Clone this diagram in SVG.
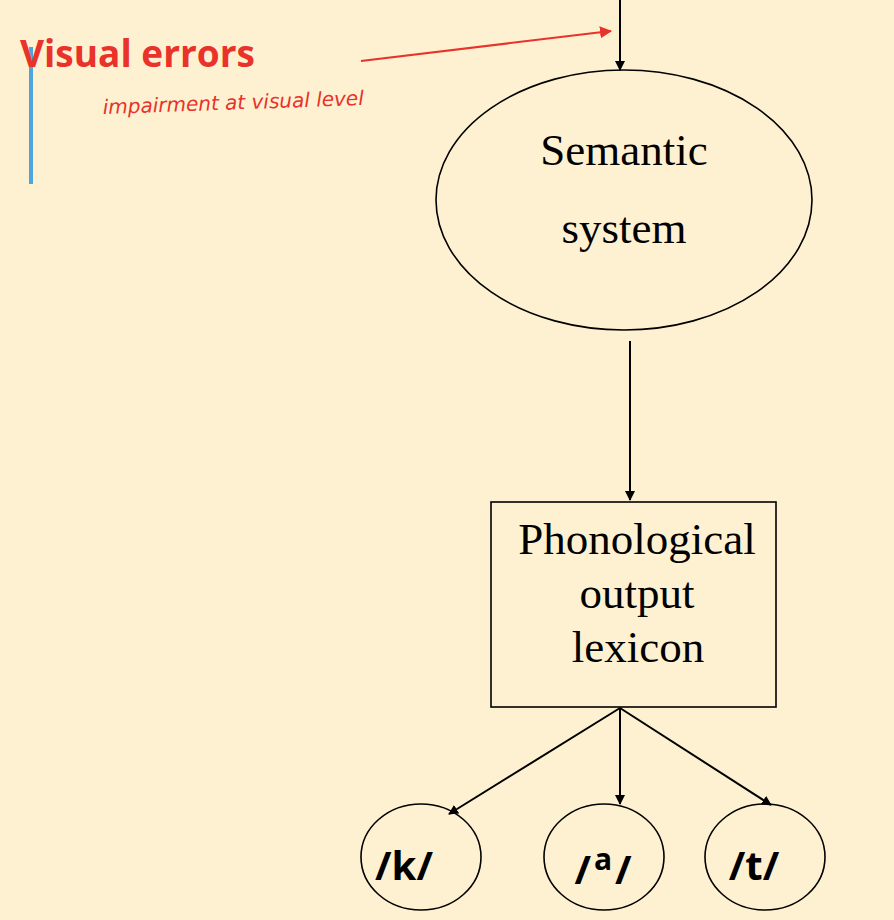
<svg xmlns="http://www.w3.org/2000/svg" width="894" height="920" viewBox="0 0 894 920">
<defs>
<style>
.ln{stroke:#000;stroke-width:2;fill:none}
.shape{stroke:#000;stroke-width:1.6;fill:none}
.serif{font-family:"Liberation Serif","Times New Roman",serif;font-size:45px;fill:#000;text-anchor:middle}
.ph{font-family:"Open Sans","Liberation Sans",sans-serif;font-weight:bold;font-size:40px;fill:#000;text-anchor:middle}
</style>
<marker id="ah" markerWidth="10" markerHeight="10" refX="9" refY="5" orient="auto" markerUnits="userSpaceOnUse"><path d="M0,0 L10,5 L0,10 Z" fill="#000"/></marker>
<marker id="rh" markerWidth="12" markerHeight="12" refX="11" refY="6" orient="auto" markerUnits="userSpaceOnUse"><path d="M0,0 L12,6 L0,12 Z" fill="#E8322A"/></marker>
</defs>
<rect width="894" height="920" fill="#FEF1D1"/>
<g id="annotation">
<line x1="31" y1="47" x2="31" y2="184" stroke="#4EA5DB" stroke-width="4"/>
<text x="20" y="67" font-family="Open Sans, Liberation Sans, sans-serif" font-weight="bold" font-size="37" fill="#E8322A">Visual errors</text>
<text x="103" y="114" font-family="DejaVu Sans, sans-serif" font-style="italic" font-size="20" fill="#E8322A" transform="rotate(-2 103 114)">impairment at visual level</text>
<line x1="361" y1="61" x2="611" y2="31" stroke="#E8322A" stroke-width="2" marker-end="url(#rh)"/>
</g>
<g id="connectors">
<line class="ln" x1="620" y1="0" x2="620" y2="70" marker-end="url(#ah)"/>
<line class="ln" x1="630" y1="341" x2="630" y2="500" marker-end="url(#ah)"/>
<line class="ln" x1="620" y1="708" x2="449" y2="814" marker-end="url(#ah)"/>
<line class="ln" x1="620" y1="708" x2="620" y2="804" marker-end="url(#ah)"/>
<line class="ln" x1="620" y1="708" x2="771" y2="805" marker-end="url(#ah)"/>
</g>
<g id="semantic">
<ellipse class="shape" cx="624" cy="200" rx="188" ry="130"/>
<text class="serif" x="624" y="165">Semantic</text>
<text class="serif" x="624" y="243">system</text>
</g>
<g id="pol">
<rect class="shape" x="491" y="502" width="285" height="205"/>
<text class="serif" x="637" y="554">Phonological</text>
<text class="serif" x="637" y="608">output</text>
<text class="serif" x="638" y="662">lexicon</text>
</g>
<g id="k">
<ellipse class="shape" cx="421" cy="857" rx="60" ry="53"/>
<text class="ph" x="404" y="880">/k/</text>
</g>
<g id="a">
<ellipse class="shape" cx="604" cy="857" rx="60" ry="53"/>
<text class="ph" x="603" y="884">/<tspan dx="3" dy="-14" font-size="30">a</tspan><tspan dx="3" dy="14">/</tspan></text>
</g>
<g id="t">
<ellipse class="shape" cx="765" cy="857" rx="60" ry="53"/>
<text class="ph" x="754" y="880">/t/</text>
</g>
</svg>
